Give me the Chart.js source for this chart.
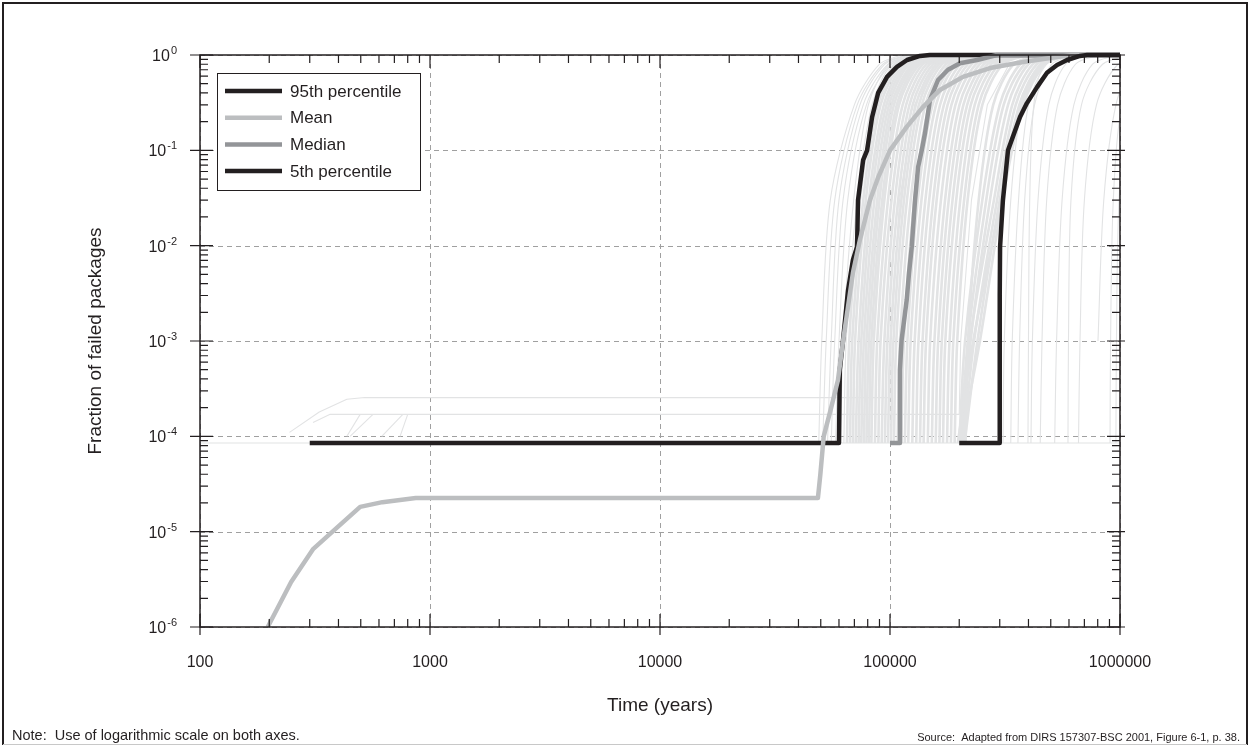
<!DOCTYPE html>
<html lang="en">
<head>
<meta charset="utf-8">
<title>Fraction of failed packages</title>
<script src="https://cdn.jsdelivr.net/npm/chart.js"></script>
<style>
    html, body { margin: 0; padding: 0; background: #fff; }
    #wrap { width: 1251px; height: 746px; }
</style>
</head>
<body>
<div id="wrap"><canvas id="chart" width="1251" height="746"></canvas></div>
<script>
// axis ticks
const xTicks = [100, 1000, 10000, 100000, 1000000];
const xTickLabels = ['100', '1000', '10000', '100000', '1000000'];
const yTicks = [1, 1e-1, 1e-2, 1e-3, 1e-4, 1e-5, 1e-6];
const yTickExponents = ['0', '-1', '-2', '-3', '-4', '-5', '-6'];

// summary curves (time in years, fraction of failed packages)
const p95Time = [300, 60000, 60500, 62500, 65700, 69000, 71900, 72600, 76400, 79500, 83600, 88800, 97100, 107200, 118600, 135000, 149000, 1000000];
const p95Frac = [8.5e-5, 8.5e-5, 5e-4, 1.02e-3, 3.4e-3, 7.1e-3, 9.7e-3, 0.03, 0.079, 0.1, 0.224, 0.40, 0.59, 0.75, 0.886, 0.977, 1, 1];

const meanTime = [197, 249, 311, 380, 497, 621, 867, 48600, 49800, 51500, 55500, 59400, 62500, 65700, 69000, 74000, 81800, 88800, 100000, 118200, 139000, 164900, 207600, 272300, 378800, 532500, 624700, 1000000];
const meanFrac = [1e-6, 2.96e-6, 6.6e-6, 1.02e-5, 1.82e-5, 2.04e-5, 2.25e-5, 2.25e-5, 4e-5, 1e-4, 2e-4, 3.9e-4, 1e-3, 2.3e-3, 5.2e-3, 0.0115, 0.03, 0.052, 0.1, 0.176, 0.284, 0.43, 0.59, 0.73, 0.845, 0.953, 1, 1];

const medianTime = [100000, 110000, 110500, 112300, 118200, 121000, 124300, 128500, 132500, 137400, 142000, 149300, 161800, 178800, 201500, 238900, 291600, 1000000];
const medianFrac = [8.5e-5, 8.5e-5, 5e-4, 1.02e-3, 2.7e-3, 5.2e-3, 9.7e-3, 0.03, 0.067, 0.1, 0.152, 0.34, 0.547, 0.70, 0.82, 0.886, 1, 1];

const p5Time = [200000, 300000, 300000, 301000, 309700, 325900, 367500, 394000, 435900, 481600, 532500, 588400, 670000, 720000, 1000000];
const p5Frac = [8.5e-5, 8.5e-5, 3e-3, 9.7e-3, 0.03, 0.1, 0.224, 0.313, 0.46, 0.65, 0.785, 0.886, 0.977, 1, 1];

// individual realizations: time at which each run reaches these fractions
const runLevels = [8.5e-5, 1e-3, 0.03, 0.3, 0.8, 1];
const runTimes = [
    [49000, 50500, 55000, 70000, 90000, 112000],
    [51000, 52800, 57500, 72000, 93000, 118000],
    [53500, 55500, 60000, 74000, 95000, 121000],
    [55500, 57500, 62500, 76500, 98000, 127000],
    [58000, 60000, 65500, 79000, 101000, 131000],
    [61000, 62500, 69500, 80500, 99000, 128000],
    [63000, 64500, 72000, 83500, 102000, 133000],
    [65000, 66500, 74000, 86000, 105000, 137000],
    [67000, 68500, 76500, 88500, 109000, 141000],
    [69000, 70500, 78500, 91000, 112000, 146000],
    [71000, 73000, 81000, 94000, 115000, 149000],
    [73000, 75000, 83000, 96500, 118000, 154000],
    [75000, 77000, 85500, 99000, 121000, 158000],
    [77000, 79000, 88000, 101500, 125000, 162000],
    [79000, 81000, 90000, 104000, 128000, 166000],
    [81000, 83000, 92500, 107000, 131000, 170000],
    [83000, 85000, 94500, 109500, 134500, 175000],
    [86000, 88000, 98000, 113500, 139000, 180000],
    [89000, 91000, 101500, 117500, 144000, 187000],
    [92000, 94500, 105000, 121500, 149000, 193000],
    [95000, 97500, 108500, 125500, 154000, 200000],
    [98000, 100500, 112000, 129500, 159000, 206000],
    [101000, 103500, 115000, 133500, 163500, 212000],
    [104000, 106500, 118500, 137500, 168500, 218000],
    [108000, 110500, 123000, 142500, 175000, 227000],
    [112000, 115000, 127500, 148000, 181500, 235000],
    [116000, 119000, 132000, 153000, 188000, 244000],
    [120000, 123000, 137000, 158500, 194500, 252000],
    [125000, 128000, 142500, 165000, 202500, 262000],
    [130000, 133000, 148000, 171500, 210500, 273000],
    [135000, 138500, 154000, 178000, 218500, 283000],
    [140000, 143500, 159500, 185000, 227000, 294000],
    [146000, 149500, 166500, 192500, 236500, 307000],
    [152000, 156000, 173500, 200500, 246000, 319000],
    [158000, 162000, 180000, 208500, 256000, 332000],
    [164000, 168000, 187000, 216500, 265500, 344000],
    [170000, 174000, 194000, 224500, 275500, 357000],
    [177000, 181500, 202000, 233500, 286500, 372000],
    [184000, 188500, 210000, 243000, 298000, 386000],
    [191000, 196000, 217500, 252000, 309500, 401000],
    [213000, 218500, 243000, 281000, 345000, 447000],
    [200000, 212000, 252000, 300000, 368000, 480000],
    [203000, 218000, 262000, 312000, 385000, 500000],
    [206000, 224000, 272000, 326000, 400000, 520000],
    [199000, 222000, 283000, 340000, 418000, 540000],
    [208000, 232000, 292000, 352000, 435000, 565000],
    [211000, 240000, 300000, 365000, 452000, 590000],
    [197000, 230000, 304000, 372000, 462000, 600000],
    [202000, 246000, 308000, 380000, 472000, 612000],
    [310000, 314000, 335000, 375000, 450000, 580000],
    [335000, 340000, 362000, 400000, 480000, 620000],
    [360000, 366000, 385000, 425000, 505000, 650000],
    [398000, 400000, 405000, 422000, 470000, 620000],
    [410000, 416000, 440000, 490000, 580000, 740000],
    [450000, 458000, 480000, 535000, 640000, 820000],
    [520000, 530000, 560000, 630000, 760000, 980000],
    [594000, 597000, 612000, 680000, 840000, 1150000],
    [660000, 670000, 700000, 790000, 980000, 1300000],
    [null, 802000, 850000, 960000, 1150000, 1500000],
    [905000, 910000, 935000, 1020000, 1250000, 1600000],
    [960000, 965000, 990000, 1080000, 1300000, 1700000]
];

// runs with early failures (explicit points)
const earlyRunTimes = [
    [100, 1000000],
    [245, 330, 435, 520, 100000, 101000, 110000, 128000, 158000, 205000],
    [310, 368, 200000, 203000, 226000, 265000, 330000, 420000],
    [435, 497],
    [449, 565],
    [617, 762],
    [741, 800]
];
const earlyRunFracs = [
    [8.5e-5, 8.5e-5],
    [1.1e-4, 1.8e-4, 2.45e-4, 2.55e-4, 2.55e-4, 1e-3, 0.03, 0.3, 0.8, 1],
    [1.4e-4, 1.7e-4, 1.7e-4, 1e-3, 0.03, 0.3, 0.8, 1],
    [1e-4, 1.7e-4],
    [1e-4, 1.7e-4],
    [1e-4, 1.7e-4],
    [1e-4, 1.7e-4]
];

const FONT = "'Liberation Sans', Arial, Helvetica, sans-serif";
const INK = '#231f20';
const RUN_COLOR = '#e2e3e4';

function pts(xs, ys) {
    return xs.map((v, i) => ({ x: v, y: ys[i] }));
}

const datasets = [
    { label: '5th percentile', data: pts(p5Time, p5Frac), borderColor: INK, borderWidth: 4.5, order: 0, clip: 6 },
    { label: 'Mean', data: pts(meanTime, meanFrac), borderColor: '#bcbec0', borderWidth: 4.5, order: 1, clip: 6 },
    { label: 'Median', data: pts(medianTime, medianFrac), borderColor: '#939598', borderWidth: 4.5, order: 2, clip: 6 },
    { label: '95th percentile', data: pts(p95Time, p95Frac), borderColor: INK, borderWidth: 4.5, order: 3, clip: 6 }
];
// runs inside the 5-95 % envelope are packed so tightly they read as a grey band
const bandFrom = p95Time[p95Frac.indexOf(0.03)];
const bandTo = p5Time[p5Frac.indexOf(0.03)];
runTimes.forEach(row => {
    const data = [];
    row.forEach((t, i) => { if (t !== null) data.push({ x: t, y: runLevels[i] }); });
    const inBand = row[2] >= bandFrom && row[2] <= bandTo;
    datasets.push({ label: '', data: data, borderColor: RUN_COLOR, borderWidth: inBand ? 2.6 : 1.1, tension: 0.3, order: 10 });
});
earlyRunTimes.forEach((row, k) => {
    datasets.push({ label: '', data: pts(row, earlyRunFracs[k]), borderColor: RUN_COLOR, borderWidth: 1.1, order: 10 });
});
datasets.forEach(d => { d.showLine = true; d.pointRadius = 0; d.fill = false; if (d.tension === undefined) d.tension = 0; d.borderJoinStyle = 'round'; });

const legendOrder = ['95th percentile', 'Mean', 'Median', '5th percentile'];

const decor = {
    id: 'decor',
    beforeDatasetsDraw(chart) {
        const { ctx, chartArea: a, scales: { x, y } } = chart;
        ctx.save();
        ctx.strokeStyle = '#a0a0a0';
        ctx.lineWidth = 1;
        ctx.setLineDash([5, 4]);
        ctx.beginPath();
        xTicks.forEach(v => {
            const px = Math.round(x.getPixelForValue(v)) + 0.5;
            ctx.moveTo(px, a.top); ctx.lineTo(px, a.bottom);
        });
        yTicks.forEach(v => {
            const py = Math.round(y.getPixelForValue(v)) + 0.5;
            ctx.moveTo(a.left, py); ctx.lineTo(a.right, py);
        });
        ctx.stroke();
        ctx.restore();
    },
    afterDraw(chart) {
        const { ctx, chartArea: a, scales: { x, y } } = chart;
        ctx.save();
        ctx.strokeStyle = INK;
        ctx.fillStyle = INK;

        // plot frame
        ctx.lineWidth = 1.5;
        ctx.strokeRect(a.left, a.top, a.right - a.left, a.bottom - a.top);

        // tick marks
        ctx.lineWidth = 1.2;
        ctx.beginPath();
        const seg = (x1, y1, x2, y2) => { ctx.moveTo(x1, y1); ctx.lineTo(x2, y2); };
        xTicks.forEach((v, i) => {
            const px = x.getPixelForValue(v);
            seg(px, a.bottom + 8, px, a.bottom - 13);
            seg(px, a.top, px, a.top + 13);
            if (i < xTicks.length - 1) {
                for (let m = 2; m <= 9; m++) {
                    const mx = x.getPixelForValue(v * m);
                    seg(mx, a.bottom, mx, a.bottom - 8);
                    seg(mx, a.top, mx, a.top + 8);
                }
            }
        });
        yTicks.forEach((v, i) => {
            const py = y.getPixelForValue(v);
            seg(a.left - 10, py, a.left + 13, py);
            seg(a.right + 5, py, a.right - 13, py);
            if (i > 0) {
                for (let m = 2; m <= 9; m++) {
                    const my = y.getPixelForValue(v * m);
                    seg(a.left, my, a.left + 8, my);
                    seg(a.right, my, a.right - 8, my);
                }
            }
        });
        ctx.stroke();

        // x tick labels
        ctx.font = '16px ' + FONT;
        ctx.textAlign = 'center';
        ctx.textBaseline = 'middle';
        xTicks.forEach((v, i) => ctx.fillText(xTickLabels[i], x.getPixelForValue(v), 663));

        // y tick labels with superscript exponents
        const rightEdge = 177;
        yTicks.forEach((v, i) => {
            const py = y.getPixelForValue(v);
            ctx.textAlign = 'left';
            ctx.textBaseline = 'alphabetic';
            ctx.font = '11px ' + FONT;
            const supW = ctx.measureText(yTickExponents[i]).width;
            ctx.font = '16px ' + FONT;
            const baseW = ctx.measureText('10').width;
            ctx.fillText('10', rightEdge - supW - baseW - 1, py + 6);
            ctx.font = '11px ' + FONT;
            ctx.fillText(yTickExponents[i], rightEdge - supW, py - 1);
        });

        // axis titles
        ctx.font = '19px ' + FONT;
        ctx.textAlign = 'center';
        ctx.textBaseline = 'middle';
        ctx.fillText('Time (years)', (a.left + a.right) / 2, 706);
        ctx.save();
        ctx.translate(96, (a.top + a.bottom) / 2);
        ctx.rotate(-Math.PI / 2);
        ctx.fillText('Fraction of failed packages', 0, 0);
        ctx.restore();

        // legend
        ctx.fillStyle = '#fff';
        ctx.fillRect(217, 73, 203, 117);
        ctx.lineWidth = 1;
        ctx.strokeStyle = INK;
        ctx.strokeRect(217.5, 73.5, 203, 117);
        ctx.font = '17px ' + FONT;
        ctx.textAlign = 'left';
        ctx.fillStyle = INK;
        legendOrder.forEach((name, i) => {
            const d = chart.data.datasets.find(s => s.label === name);
            const ly = 91 + i * 26.7;
            ctx.strokeStyle = d.borderColor;
            ctx.lineWidth = 4.5;
            ctx.beginPath();
            ctx.moveTo(225, ly); ctx.lineTo(282, ly);
            ctx.stroke();
            ctx.fillText(name, 290, ly + 1);
        });

        // footnotes
        ctx.fillStyle = INK;
        ctx.textBaseline = 'alphabetic';
        ctx.font = '14.5px ' + FONT;
        ctx.textAlign = 'left';
        ctx.fillText('Note:  Use of logarithmic scale on both axes.', 12, 740);
        ctx.font = '11px ' + FONT;
        ctx.textAlign = 'right';
        ctx.fillText('Source:  Adapted from DIRS 157307-BSC 2001, Figure 6-1, p. 38.', 1240, 741);

        // outer figure border
        ctx.strokeStyle = INK;
        ctx.lineWidth = 2;
        ctx.beginPath();
        ctx.moveTo(3, 745); ctx.lineTo(3, 3); ctx.lineTo(1247, 3); ctx.lineTo(1247, 745);
        ctx.stroke();
        ctx.strokeStyle = '#c8c8c8';
        ctx.lineWidth = 1;
        ctx.beginPath();
        ctx.moveTo(3, 744.5); ctx.lineTo(1247, 744.5);
        ctx.stroke();
        ctx.restore();
    }
};

new Chart(document.getElementById('chart'), {
    type: 'scatter',
    data: { datasets: datasets },
    options: {
        responsive: false,
        animation: false,
        events: [],
        layout: { padding: { left: 200, right: 131, top: 55, bottom: 119 } },
        scales: {
            x: { type: 'logarithmic', min: 100, max: 1000000, display: false },
            y: { type: 'logarithmic', min: 1e-6, max: 1, display: false }
        },
        plugins: { legend: { display: false }, tooltip: { enabled: false } }
    },
    plugins: [decor]
});
</script>
</body>
</html>
